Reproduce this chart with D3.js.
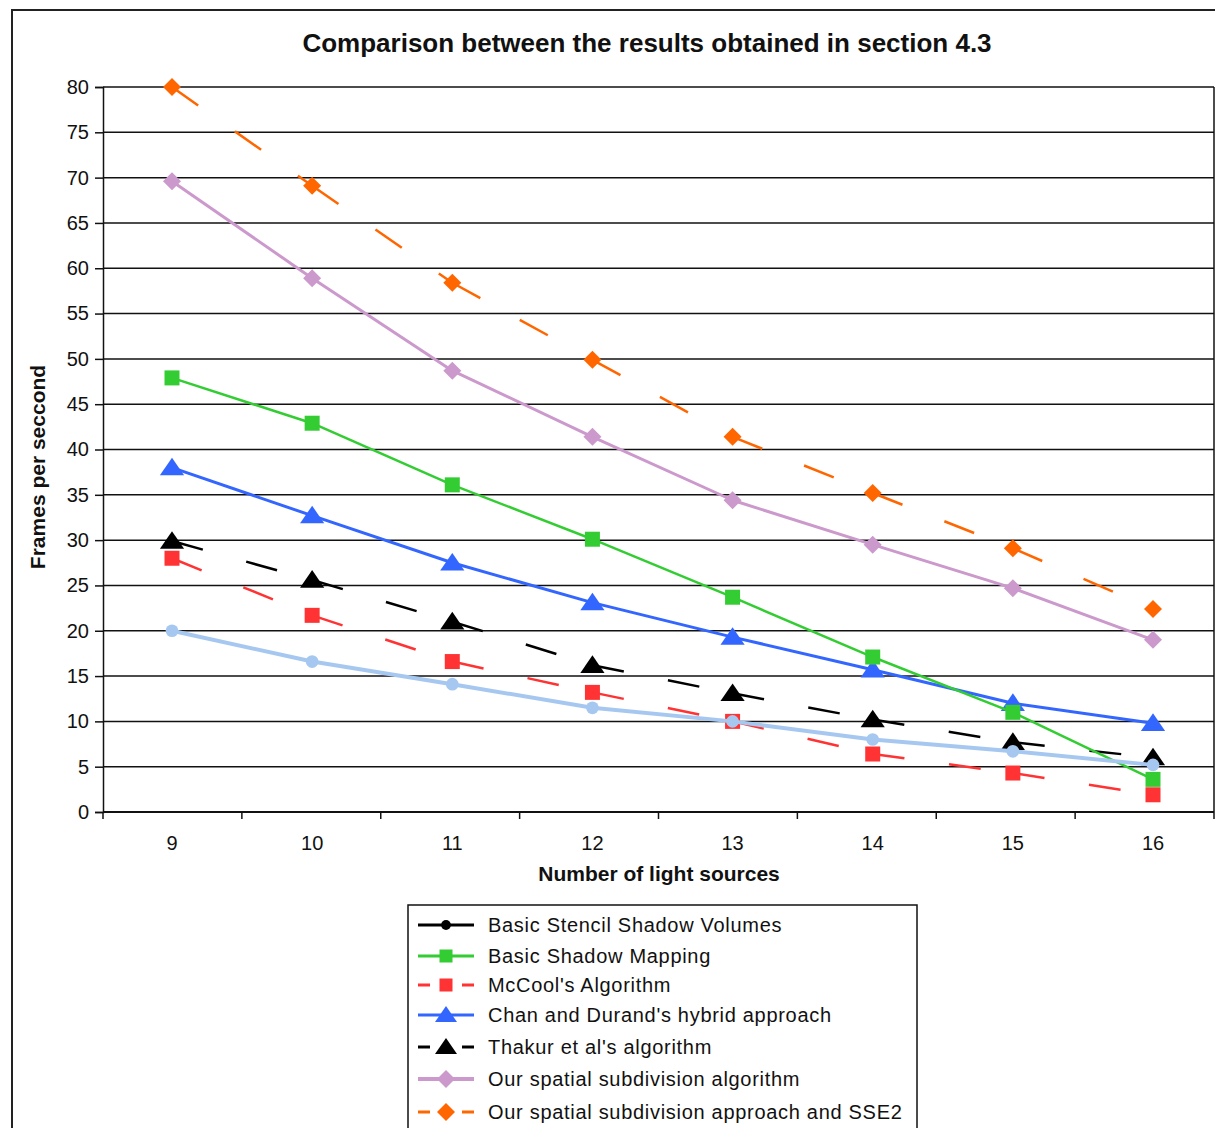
<!DOCTYPE html>
<html>
<head>
<meta charset="utf-8">
<script src="https://cdn.jsdelivr.net/npm/d3@7"></script>
<style>
  html, body { margin: 0; padding: 0; background: #fff; }
  svg { display: block; font-family: "Liberation Sans", Arial, sans-serif; }
</style>
</head>
<body>
<svg id="chart" width="1215" height="1128"></svg>
<script>
// Number of light sources (x categories)
const lightSources = [9, 10, 11, 12, 13, 14, 15, 16];
const yTicks = [0, 5, 10, 15, 20, 25, 30, 35, 40, 45, 50, 55, 60, 65, 70, 75, 80];

// Frames per second for each technique
const stencilShadowVolumes = [20.0, 16.6, 14.1, 11.5, 10.0, 8.0, 6.7, 5.2];
const basicShadowMapping   = [47.9, 42.9, 36.1, 30.1, 23.7, 17.1, 11.0, 3.6];
const mcCool               = [28.0, 21.7, 16.6, 13.2, 10.0, 6.4, 4.3, 1.9];
const chanDurand           = [38.0, 32.7, 27.5, 23.1, 19.3, 15.7, 12.0, 9.8];
const thakur               = [29.9, 25.6, 21.0, 16.2, 13.1, 10.2, 7.7, 6.0];
const spatialSubdivision   = [69.6, 58.9, 48.7, 41.4, 34.4, 29.5, 24.7, 19.0];
const spatialSubdivisionSSE2 = [80.0, 69.1, 58.4, 49.9, 41.4, 35.2, 29.1, 22.4];

const seriesNames = [
  "Basic Stencil Shadow Volumes",
  "Basic Shadow Mapping",
  "McCool's Algorithm",
  "Chan and Durand's hybrid approach",
  "Thakur et al's algorithm",
  "Our spatial subdivision algorithm",
  "Our spatial subdivision approach and SSE2"
];

const series = [
  { name: seriesNames[0], values: stencilShadowVolumes, color: "#a6c8f0", legendColor: "#000", marker: "circle", dash: null, width: 4 },
  { name: seriesNames[1], values: basicShadowMapping, color: "#33cc33", legendColor: "#33cc33", marker: "square", dash: null, width: 2.5 },
  { name: seriesNames[2], values: mcCool, color: "#ff3333", legendColor: "#ff3333", marker: "square", dash: "32,45", width: 2.5 },
  { name: seriesNames[3], values: chanDurand, color: "#3366ff", legendColor: "#3366ff", marker: "triangle", dash: null, width: 3 },
  { name: seriesNames[4], values: thakur, color: "#000000", legendColor: "#000", marker: "triangle", dash: "32,45", width: 2.5 },
  { name: seriesNames[5], values: spatialSubdivision, color: "#cc99cc", legendColor: "#cc99cc", marker: "diamond", dash: null, width: 3 },
  { name: seriesNames[6], values: spatialSubdivisionSSE2, color: "#ff6600", legendColor: "#ff6600", marker: "diamond", dash: "32,45", width: 2.5 }
];

// drawing order (back to front)
const drawOrder = [2, 4, 3, 1, 5, 6, 0];

const svg = d3.select("#chart");

// outer chart frame
svg.append("rect")
  .attr("x", 12).attr("y", 10)
  .attr("width", 1220).attr("height", 1140)
  .attr("fill", "none").attr("stroke", "#222").attr("stroke-width", 2);

const plot = { left: 103, right: 1214, top: 87, bottom: 812 };

// category bands for the tick marks, point positions for marks and labels
const xBand = d3.scaleBand().domain(lightSources).range([plot.left, plot.right]).padding(0);
const x = d3.scalePoint().domain(lightSources).range([172, 1153]);
const y = d3.scaleLinear().domain([0, 80]).range([plot.bottom, plot.top]);

// horizontal gridlines
svg.append("g")
  .selectAll("line")
  .data(yTicks.filter(d => d > 0))
  .join("line")
  .attr("x1", plot.left).attr("x2", plot.right)
  .attr("y1", d => y(d)).attr("y2", d => y(d))
  .attr("stroke", "#111").attr("stroke-width", 1.5);

// right plot edge
svg.append("line")
  .attr("x1", plot.right).attr("x2", plot.right)
  .attr("y1", plot.top).attr("y2", plot.bottom)
  .attr("stroke", "#111").attr("stroke-width", 1.5);

// y axis
const yAxis = d3.axisLeft(y).tickValues(yTicks).tickSize(8).tickPadding(6);
const gy = svg.append("g").attr("transform", `translate(${plot.left},0)`).call(yAxis);
gy.select(".domain").attr("stroke", "#111").attr("stroke-width", 1.5);
gy.selectAll(".tick line").attr("stroke", "#111").attr("stroke-width", 1.5);
gy.selectAll(".tick text").attr("font-size", 20).attr("fill", "#111")
  .attr("font-family", "'Liberation Sans', Arial, sans-serif");

// x axis: ticks at category boundaries
const gx = svg.append("g").attr("transform", `translate(0,${plot.bottom})`);
gx.append("line")
  .attr("x1", plot.left).attr("x2", plot.right)
  .attr("y1", 0).attr("y2", 0)
  .attr("stroke", "#111").attr("stroke-width", 2);
const boundaries = lightSources.map(d => xBand(d)).concat([plot.right]);
gx.selectAll("line.tk").data(boundaries).join("line").attr("class", "tk")
  .attr("x1", d => d).attr("x2", d => d).attr("y1", 0).attr("y2", 7)
  .attr("stroke", "#111").attr("stroke-width", 1.5);
gx.selectAll("text").data(lightSources).join("text")
  .attr("x", d => x(d))
  .attr("y", 38)
  .attr("text-anchor", "middle")
  .attr("font-size", 20).attr("fill", "#111")
  .text(d => d);

// titles
svg.append("text")
  .attr("x", 647).attr("y", 52)
  .attr("text-anchor", "middle")
  .attr("font-size", 26).attr("font-weight", "bold").attr("fill", "#111")
  .text("Comparison between the results obtained in section 4.3");

svg.append("text")
  .attr("x", 659).attr("y", 881)
  .attr("text-anchor", "middle")
  .attr("font-size", 21).attr("font-weight", "bold").attr("fill", "#111")
  .text("Number of light sources");

svg.append("text")
  .attr("transform", "translate(45,467) rotate(-90)")
  .attr("text-anchor", "middle")
  .attr("font-size", 21).attr("font-weight", "bold").attr("fill", "#111")
  .text("Frames per seccond");

// marker shapes
function markerPath(type, size) {
  const s = size;
  switch (type) {
    case "square": return `M${-s/2},${-s/2}h${s}v${s}h${-s}Z`;
    case "triangle": return `M0,${-s*0.45}L${s*0.55},${s*0.35}L${-s*0.55},${s*0.35}Z`;
    case "diamond": return `M0,${-s/2}L${s/2},0L0,${s/2}L${-s/2},0Z`;
    default: return d3.symbol(d3.symbolCircle, s * s * 0.75)();
  }
}
const markerSize = { square: 15, triangle: 22, diamond: 18, circle: 13 };

const lineGen = d3.line().x(d => d[0]).y(d => d[1]);

drawOrder.forEach(i => {
  const s = series[i];
  const pts = s.values.map((v, k) => [x(lightSources[k]), y(v)]);
  const g = svg.append("g");
  // each segment is its own path so the dash pattern restarts at every point
  d3.pairs(pts).forEach(([a, b]) => {
    g.append("path")
      .attr("d", lineGen([a, b]))
      .attr("fill", "none")
      .attr("stroke", s.color)
      .attr("stroke-width", s.width)
      .attr("stroke-dasharray", s.dash);
  });
  g.selectAll("path.mk").data(pts).join("path").attr("class", "mk")
    .attr("transform", d => `translate(${d[0]},${d[1]})`)
    .attr("d", markerPath(s.marker, markerSize[s.marker]))
    .attr("fill", s.color);
});

// legend
const lg = svg.append("g");
lg.append("rect")
  .attr("x", 408).attr("y", 905).attr("width", 509).attr("height", 260)
  .attr("fill", "#fff").attr("stroke", "#111").attr("stroke-width", 1.5);
const legendY = [925, 956, 985, 1015, 1047, 1079, 1112];
series.forEach((s, i) => {
  const yy = legendY[i];
  const row = lg.append("g");
  if (s.dash) {
    row.append("line").attr("x1", 418).attr("x2", 430).attr("y1", yy).attr("y2", yy)
      .attr("stroke", s.legendColor).attr("stroke-width", 3);
    row.append("line").attr("x1", 462).attr("x2", 474).attr("y1", yy).attr("y2", yy)
      .attr("stroke", s.legendColor).attr("stroke-width", 3);
  } else {
    row.append("line").attr("x1", 418).attr("x2", 474).attr("y1", yy).attr("y2", yy)
      .attr("stroke", s.legendColor).attr("stroke-width", i === 5 ? 4 : 3);
  }
  const msz = s.marker === "circle" ? 10 : (s.marker === "square" ? 13 : (s.marker === "triangle" ? 20 : 18));
  row.append("path")
    .attr("transform", `translate(446,${yy})`)
    .attr("d", markerPath(s.marker, msz))
    .attr("fill", s.legendColor);
  row.append("text")
    .attr("x", 488).attr("y", yy + 7)
    .attr("font-size", 20).attr("letter-spacing", 0.7).attr("fill", "#111")
    .text(s.name);
});
</script>
</body>
</html>
